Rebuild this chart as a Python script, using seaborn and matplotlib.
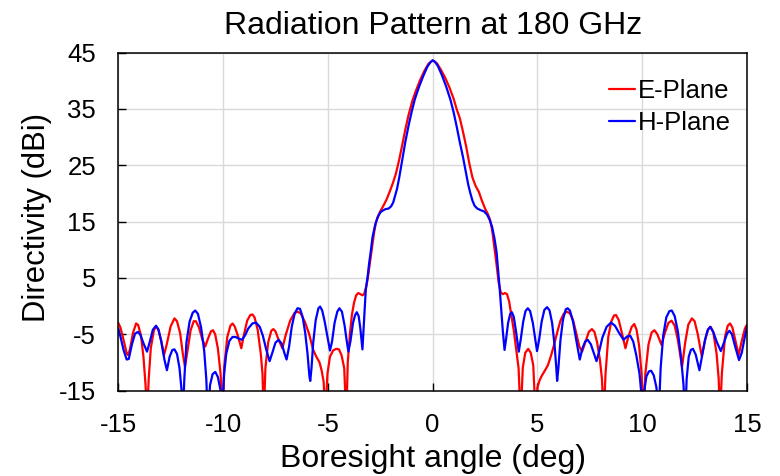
import numpy as np
import pandas as pd
import matplotlib
matplotlib.use("Agg")
import matplotlib.pyplot as plt
import seaborn as sns

# E-Plane (red): points, (angle deg, directivity dBi)
e_angle = [-15.0, -14.9, -14.75, -14.6, -14.54, -14.45, -14.3, -14.15, -14.05, -13.92, -13.8, -13.7, -13.63,
           -13.55, -13.45, -13.3, -13.2, -13.1, -12.95, -12.82, -12.7, -12.5, -12.32, -12.2, -12.05, -11.92,
           -11.82, -11.7, -11.55, -11.4, -11.3, -11.15, -11.0, -10.85, -10.72, -10.58, -10.48, -10.38, -10.25,
           -10.12, -10.03,
           -9.95, -9.8, -9.65, -9.55, -9.45, -9.3, -9.13, -9.0, -8.85, -8.7, -8.6, -8.5, -8.35, -8.2, -8.12, -8.06,
           -7.98, -7.85, -7.7, -7.6, -7.5, -7.35, -7.17, -7.0, -6.8, -6.6, -6.45, -6.3, -6.1, -5.9, -5.7, -5.55,
           -5.4, -5.3, -5.2, -5.12,
           -5.02, -4.9, -4.75, -4.6, -4.47, -4.35, -4.22, -4.12,
           -4.05, -3.95, -3.85, -3.75, -3.65, -3.55, -3.45, -3.35, -3.27, -3.18, -3.1, -3.0, -2.9, -2.8, -2.71,
           -2.6, -2.5, -2.35, -2.2, -2.05, -1.9, -1.76, -1.6, -1.45, -1.3, -1.15, -0.97, -0.8, -0.6, -0.4, -0.2,
           0.0, 0.2, 0.4, 0.6, 0.8, 1.0, 1.15, 1.3, 1.45, 1.6, 1.75, 1.9, 2.05, 2.2, 2.35, 2.5, 2.65, 2.75, 2.85,
           2.95, 3.05, 3.15, 3.25, 3.35, 3.45, 3.55, 3.65, 3.75, 3.87, 3.98, 4.1, 4.2,
           4.3, 4.42, 4.56, 4.68, 4.8, 4.92,
           5.0, 5.1, 5.22, 5.35, 5.5, 5.65, 5.8, 5.95, 6.1, 6.25, 6.4, 6.55, 6.7, 6.85, 7.0, 7.13, 7.28, 7.45,
           7.6, 7.72, 7.85, 7.98, 8.08, 8.16,
           8.25, 8.38, 8.52, 8.65, 8.75, 8.88, 9.03, 9.2, 9.35, 9.5, 9.62, 9.73, 9.85, 9.97, 10.06,
           10.15, 10.3, 10.45, 10.58, 10.72, 10.92, 11.08, 11.25, 11.4, 11.55, 11.7, 11.9, 12.05, 12.2, 12.37,
           12.5, 12.65, 12.84, 13.0, 13.15, 13.27, 13.4, 13.55, 13.65, 13.71,
           13.8, 13.95, 14.08, 14.19, 14.3, 14.45, 14.6, 14.75, 14.9, 15.0]
e_dbi = [-3.0, -3.8, -6.0, -8.4, -8.7, -7.8, -4.8, -3.1, -3.4, -5.2, -9.0, -14.0, -20.0,
         -13.0, -7.5, -4.3, -3.7, -4.1, -6.2, -8.7, -7.0, -3.6, -2.2, -2.7, -4.8, -8.5,
         -10.8, -8.0, -4.3, -2.7, -2.7, -3.8, -5.8, -7.2, -5.8, -4.5, -4.3, -5.0, -7.5,
         -12.0, -20.0,
         -11.0, -5.5, -3.5, -3.1, -3.6, -5.2, -7.5, -5.0, -2.6, -1.6, -1.5, -2.0, -4.2, -8.5, -12.0, -20.0,
         -11.0, -6.5, -4.4, -4.1, -4.5, -6.0, -7.5, -5.0, -2.6, -1.3, -1.0, -1.3, -2.8, -4.9, -7.8, -9.0,
         -10.0, -11.4, -13.5, -20.0,
         -12.0, -9.0, -7.9, -7.6, -7.7, -8.7, -11.0, -20.0,
         -10.0, -5.0, -1.5, 0.6, 1.9, 2.3, 2.1, 1.9, 2.1, 3.3, 4.8, 7.5, 10.2, 12.9, 14.8,
         16.0, 16.8, 17.8, 18.9, 20.3, 21.8, 23.4, 25.9, 28.6, 31.4, 33.9, 36.4, 38.2, 40.1, 41.7, 43.0,
         43.6, 43.1, 41.9, 40.5, 38.8, 36.8, 34.9, 33.3, 30.9, 28.3, 25.3, 22.8, 21.3, 20.3, 18.7, 17.3, 16.2,
         15.2, 13.2,
         10.3, 7.3, 4.2, 2.4, 2.1, 2.3, 2.1, 0.8, -1.5, -4.3, -7.5, -11.0, -20.0,
         -11.0, -8.3, -7.6, -8.3, -10.5, -20.0,
         -14.5, -13.2, -12.3, -11.5, -10.5, -8.8, -6.8, -4.6, -2.6, -1.4, -1.0, -1.3, -2.5, -4.8, -7.2, -8.1,
         -6.5, -4.6,
         -4.1, -4.6, -6.5, -9.5, -13.0, -20.0,
         -12.0, -5.5, -2.8, -1.7, -1.6, -2.5, -4.8, -7.5, -5.3, -3.7, -3.2, -4.2, -7.0, -12.0, -20.0,
         -12.0, -6.8, -4.7, -4.3, -5.0, -6.9, -4.8, -3.0, -2.6, -3.5, -6.0, -10.8, -6.5, -3.3, -2.2,
         -2.7, -5.0, -8.9, -6.0, -4.1, -3.7, -4.8, -8.5, -13.0, -20.0,
         -12.0, -5.5, -3.5, -3.1, -3.8, -6.2, -8.7, -6.2, -4.0, -3.3]

# H-Plane (blue)
h_angle = [-15.0, -14.9, -14.75, -14.6, -14.5, -14.35, -14.2, -14.06, -13.95, -13.8, -13.63, -13.5, -13.35,
           -13.2, -13.08, -12.95, -12.8, -12.68, -12.55, -12.42, -12.32, -12.2, -12.08, -11.98, -11.92,
           -11.85, -11.75, -11.6, -11.45, -11.33, -11.2, -11.05, -10.9, -10.8, -10.73,
           -10.62, -10.5, -10.37, -10.25, -10.12, -10.05,
           -9.95, -9.85, -9.7, -9.55, -9.4, -9.25, -9.1, -8.95, -8.8, -8.6, -8.43, -8.25, -8.1, -7.95, -7.78,
           -7.65, -7.5, -7.35, -7.2, -7.07, -6.97, -6.85, -6.72, -6.58, -6.45, -6.33, -6.2, -6.08, -5.97, -5.88,
           -5.84, -5.78, -5.7, -5.58, -5.45, -5.37, -5.27, -5.15, -5.0, -4.9, -4.8, -4.68, -4.55, -4.45, -4.33,
           -4.2, -4.1, -4.02, -3.92, -3.8, -3.7, -3.62, -3.53, -3.45, -3.38, -3.35, -3.3, -3.25, -3.19, -3.1,
           -3.03, -2.95, -2.87, -2.75, -2.63, -2.5, -2.4, -2.25, -2.1, -1.98, -1.88, -1.8, -1.7, -1.6, -1.45,
           -1.3, -1.15, -1.0, -0.85, -0.65, -0.45, -0.25, -0.1, 0.0, 0.1, 0.25, 0.45, 0.65, 0.85, 1.0, 1.15,
           1.3, 1.45, 1.6, 1.7, 1.8, 1.9, 2.0, 2.13, 2.3, 2.45, 2.6, 2.72, 2.84, 2.95, 3.05, 3.12, 3.2, 3.27,
           3.35, 3.43, 3.5, 3.6, 3.7, 3.78, 3.87, 3.97, 4.05, 4.11, 4.2, 4.32, 4.43, 4.54, 4.65, 4.78, 4.9,
           4.98, 5.08, 5.2, 5.33, 5.46, 5.58, 5.7, 5.82, 5.9, 5.94, 6.0, 6.1, 6.22, 6.35, 6.44, 6.55, 6.7,
           6.85, 7.02, 7.15, 7.28, 7.4, 7.55, 7.7, 7.82, 7.95, 8.1, 8.3, 8.51, 8.7, 8.9, 9.11, 9.28, 9.43,
           9.57, 9.72, 9.87, 9.97, 10.03,
           10.1, 10.2, 10.32, 10.43, 10.55, 10.68, 10.78,
           10.88, 11.0, 11.15, 11.3, 11.41, 11.55, 11.7, 11.85, 11.97, 12.05,
           12.12, 12.22, 12.32, 12.42, 12.55, 12.73, 12.85, 13.0, 13.12, 13.24, 13.38, 13.55, 13.75, 13.9,
           14.05, 14.16, 14.28, 14.45, 14.62, 14.75, 14.88, 15.0]
h_dbi = [-4.0, -5.4, -7.8, -9.5, -9.4, -6.8, -4.9, -4.6, -5.1, -6.6, -8.1, -6.4, -4.2,
         -3.5, -4.2, -6.3, -9.5, -11.4, -9.0, -7.8, -7.7, -8.5, -11.0, -15.0, -20.0,
         -13.0, -6.5, -2.8, -1.2, -0.8, -1.4, -3.8, -8.0, -13.0, -20.0,
         -14.0, -12.1, -11.7, -12.6, -15.0, -20.0,
         -12.0, -8.5, -6.2, -5.5, -5.5, -5.8, -6.0, -5.2, -4.0, -3.1, -2.95, -3.7, -5.3, -7.6, -9.8,
         -8.3, -6.5, -6.0, -6.7, -8.4, -9.5, -7.2, -3.6, -1.3, -0.4, -0.5, -2.0, -4.8, -8.5, -12.5,
         -13.3, -11.0, -6.5, -2.5, -0.4, -0.1, -0.8, -2.8, -5.8, -7.9, -6.3, -3.0, -1.0, -0.4, -1.0,
         -3.5, -6.2, -8.1, -6.2, -3.0, -1.6, -1.1, -1.8, -4.0, -6.5, -7.7, -4.5, -1.0, 2.9, 5.3,
         7.6, 9.8, 12.2, 14.3, 15.7, 16.6, 16.9, 17.2, 17.3, 17.7, 18.4, 19.5, 20.8, 22.7, 26.0,
         29.2, 32.0, 34.5, 36.7, 38.9, 40.8, 42.5, 43.3, 43.6, 43.4, 42.6, 40.9, 38.9, 36.6, 34.4, 31.8,
         29.0, 26.4, 23.4, 21.5, 20.0, 18.7, 17.8, 17.3, 17.0, 16.8, 16.2, 15.3, 14.0, 12.0, 9.6, 6.5, 3.0, -0.5,
         -4.5, -7.8, -6.0, -3.0, -1.4, -1.1, -1.9, -4.3, -6.5, -8.1, -6.0, -2.8, -0.9, -0.4, -0.9, -3.0, -6.0,
         -8.0, -6.0, -2.8, -0.7, -0.2, -0.8, -3.0, -7.0, -11.0, -13.3, -11.0, -6.0, -2.4, -0.6, -0.4, -0.8, -2.8,
         -6.0, -9.5, -7.5, -6.3, -6.0, -6.8, -8.5, -9.8, -8.0, -5.6, -3.7, -2.95, -3.5, -4.8, -6.0, -5.4, -5.3,
         -6.3, -8.8, -12.0, -16.0, -20.0,
         -15.0, -12.5, -11.6, -11.5, -12.3, -14.5, -20.0,
         -11.0, -5.3, -2.0, -0.9, -0.8, -1.8, -4.5, -9.0, -14.0, -20.0,
         -13.0, -9.0, -7.8, -7.6, -8.6, -11.4, -9.0, -6.0, -4.3, -3.7, -4.5, -6.3, -8.0, -6.5,
         -4.9, -4.4, -5.0, -7.4, -9.6, -8.3, -5.8, -3.7]

x_ticks = [-15, -10, -5, 0, 5, 10, 15]
y_ticks = [-15, -5, 5, 15, 25, 35, 45]
series_names = ["E-Plane", "H-Plane"]

df = pd.concat([
    pd.DataFrame({"angle": e_angle, "dbi": e_dbi, "plane": series_names[0]}),
    pd.DataFrame({"angle": h_angle, "dbi": h_dbi, "plane": series_names[1]}),
], ignore_index=True)

sns.set_theme(style="white")
plt.rcParams["font.family"] = ["Liberation Sans", "DejaVu Sans"]
plt.rcParams["axes.unicode_minus"] = False

fig = plt.figure(figsize=(7.8, 4.76), dpi=100)
ax = fig.add_axes([118.3 / 780, 1 - 390.5 / 476, (747 - 118.3) / 780, (390.5 - 52.5) / 476])

sns.lineplot(data=df, x="angle", y="dbi", hue="plane", estimator=None, sort=False,
             palette={"E-Plane": "#ff0000", "H-Plane": "#0000ff"}, linewidth=1.6, ax=ax)

ax.set_xlim(-15, 15)
ax.set_ylim(-15, 45)
ax.set_xticks(x_ticks)
ax.set_yticks(y_ticks)
ax.grid(True, color="#d9d9d9", linewidth=1.0)
ax.set_axisbelow(True)
for s in ax.spines.values():
    s.set_color("black")
    s.set_linewidth(1.1)
ax.tick_params(direction="in", length=6, width=1, colors="black", labelsize=18.5,
               top=False, right=False, bottom=True, left=True)
ax.tick_params(axis="x", pad=16.5)
ax.tick_params(axis="y", pad=16)
for lab in ax.get_xticklabels() + ax.get_yticklabels():
    lab.set_color("black")
ax.set_xlabel("Boresight angle (deg)", fontsize=23, color="black", labelpad=4.5)
ax.set_ylabel("Directivity (dBi)", fontsize=22.3, color="black")
ax.yaxis.set_label_coords(-0.106, 0.512)
ax.set_title("Radiation Pattern at 180 GHz", fontsize=23, color="black", pad=13.5)

leg = ax.legend(loc="upper right", bbox_to_anchor=(0.991, 0.952), borderaxespad=0.0,
                frameon=False, fontsize=18.5, handlelength=1.05, handletextpad=0.1,
                labelspacing=0.32)
for line in leg.get_lines():
    line.set_linewidth(1.6)
for t in leg.get_texts():
    t.set_color("black")

fig.savefig("out.png", dpi=100)
